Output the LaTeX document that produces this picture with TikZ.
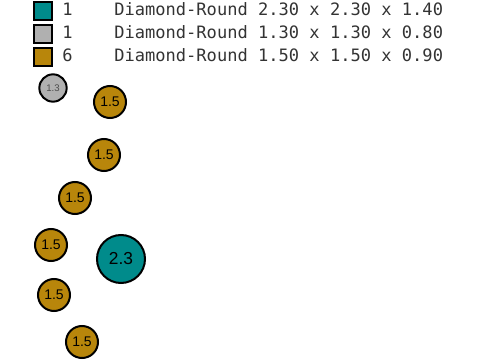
\documentclass[tikz,border=0pt]{standalone}
\usepackage{fontspec}
\setmainfont{Liberation Sans}
\newfontfamily\legmono{DejaVu Sans Mono}
\definecolor{tealc}{RGB}{0,139,139}
\definecolor{goldc}{RGB}{184,134,11}
\definecolor{grayc}{RGB}{176,176,176}
\begin{document}
\begin{tikzpicture}[x=0.75pt,y=-0.75pt,
  legbox/.style={draw=black,line width=1.8pt,minimum size=13.5pt,inner sep=0pt},
  legtxt/.style={anchor=base west,inner sep=0pt,font=\legmono\fontsize{12.8pt}{14pt}\selectfont,text=black!80},
  ball/.style={circle,draw=black,line width=1.5pt,inner sep=0pt},
  gold/.style={ball,fill=goldc,minimum size=24pt,font=\fontsize{10.5pt}{12pt}\selectfont},
]
\useasboundingbox (0,0) rectangle (480,360);
% legend
\node[legbox,fill=tealc] (k1) at (43,11) {};
\node[legbox,fill=grayc] (k2) at (43,34) {};
\node[legbox,fill=goldc] (k3) at (43,57) {};
\node[legtxt] (c1) at (62,16) {1};
\node[legtxt] (c2) at (62,39) {1};
\node[legtxt] (c3) at (62,62) {6};
\node[legtxt] (d1) at (114,16) {Diamond-Round 2.30 x 2.30 x 1.40};
\node[legtxt] (d2) at (114,39) {Diamond-Round 1.30 x 1.30 x 0.80};
\node[legtxt] (d3) at (114,62) {Diamond-Round 1.50 x 1.50 x 0.90};
% balls
\node[ball,fill=grayc,minimum size=20.5pt,font=\fontsize{7.2pt}{8pt}\selectfont,text=black!70] (g) at (53,88) {1.3};
\node[gold] (b1) at (110,102) {1.5};
\node[gold] (b2) at (104,155) {1.5};
\node[gold] (b3) at (75,198) {1.5};
\node[gold] (b4) at (51,245) {1.5};
\node[gold] (b5) at (54,295) {1.5};
\node[gold] (b6) at (82,342) {1.5};
\node[ball,fill=tealc,minimum size=36pt,font=\fontsize{13pt}{15pt}\selectfont] (t) at (121,259) {2.3};
\end{tikzpicture}
\end{document}
